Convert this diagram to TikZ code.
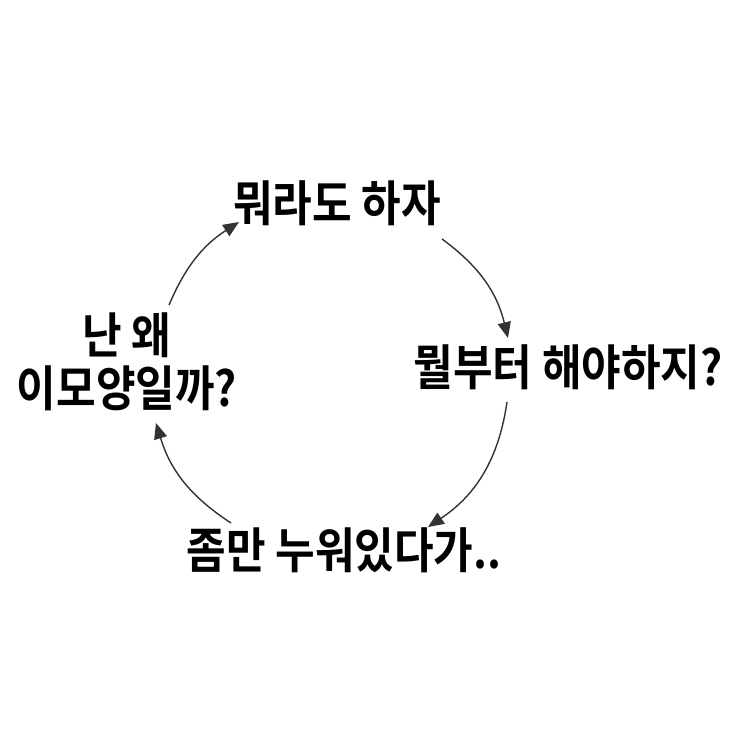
\documentclass[tikz,border=0pt]{standalone}
\usepackage{fontspec}
\usepackage{graphicx}
\newfontfamily\kr{Noto Sans CJK KR}[BoldFont={Noto Sans CJK KR Bold}]
\newcommand{\tallt}[1]{\scalebox{1}[1.13]{#1}}
\usetikzlibrary{arrows.meta}

\begin{document}
\begin{tikzpicture}[x=0.02cm,y=-0.02cm,>={Triangle[length=9pt,width=7.5pt]},
		phrase node/.style={inner sep=0pt,font=\kr\bfseries\fontsize{24.5}{30}\selectfont,align=center},
		cycle edge/.style={->,line width=0.8pt,draw=black!80}]
		\useasboundingbox (0,0) rectangle (743,743);
		% 순환
		\node[phrase node] (st1) at (337,203) {\tallt{뭐라도 하자}};
		\node[phrase node] (st2) at (568,367) {\tallt{뭘부터 해야하지?}};
		\node[phrase node] (st3) at (344,550) {\tallt{좀만 누워있다가..}};
		\node[phrase node] (st4) at (127,362) {\tallt{난 왜}\\\tallt{이모양일까?}};
		\coordinate (e1a) at (442,239); \coordinate (e1b) at (508,338);
		\coordinate (e2a) at (507,402); \coordinate (e2b) at (428,527);
		\coordinate (e3a) at (231,523); \coordinate (e3b) at (156,423);
		\coordinate (e4a) at (169,305); \coordinate (e4b) at (239,222);
		\path
		(e1a) edge [cycle edge, bend left=20] (e1b)
		(e2a) edge [cycle edge, bend left=24] (e2b)
		(e3a) edge [cycle edge, bend left=20] (e3b)
		(e4a) edge [cycle edge, bend left=17] (e4b);
\end{tikzpicture}
\end{document}
